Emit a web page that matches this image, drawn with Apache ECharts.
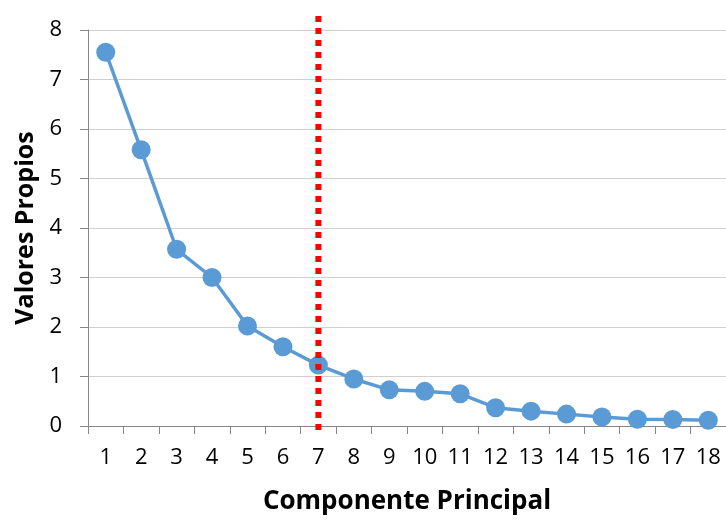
<!DOCTYPE html>
<html>
<head>
<meta charset="utf-8">
<script src="https://cdn.jsdelivr.net/npm/echarts@6/dist/echarts.min.js"></script>
<style>html,body{margin:0;padding:0;background:#fff}#c{width:726px;height:523px}</style>
</head>
<body>
<div id="c"></div>
<script>
var categories = ['1','2','3','4','5','6','7','8','9','10','11','12','13','14','15','16','17','18'];
var eigenvalues = [7.55, 5.58, 3.57, 3.0, 2.02, 1.6, 1.23, 0.95, 0.73, 0.7, 0.65, 0.37, 0.3, 0.24, 0.18, 0.135, 0.13, 0.115];
var yTicks = [0, 8, 1];
var cutoffCategory = '7';
var xTitle = 'Componente Principal';
var yTitle = 'Valores Propios';

var chart = echarts.init(document.getElementById('c'));
var font = '"Open Sans", "Liberation Sans", sans-serif';
chart.setOption({
  animation: false,
  grid: [
    {left: 88, right: 0, top: 30, bottom: 97},
    {left: 88, right: 0, top: 12, bottom: 93}
  ],
  xAxis: [{
    type: 'category', gridIndex: 0, data: categories, boundaryGap: true,
    axisLine: {lineStyle: {color: '#868686', width: 1}},
    axisTick: {show: true, length: 8, lineStyle: {color: '#868686'}},
    axisLabel: {color: '#000', fontSize: 22, fontFamily: font, margin: 21, interval: 0},
    name: xTitle, nameLocation: 'middle', nameGap: 63,
    nameTextStyle: {color: '#000', fontSize: 26, fontWeight: 'bold', fontFamily: font}
  }, {
    type: 'category', gridIndex: 1, data: categories, boundaryGap: true, show: false
  }],
  yAxis: [{
    type: 'value', gridIndex: 0, min: yTicks[0], max: yTicks[1], interval: yTicks[2],
    axisLine: {show: true, lineStyle: {color: '#868686', width: 1}},
    axisTick: {show: true, length: 8, lineStyle: {color: '#868686'}},
    splitLine: {lineStyle: {color: '#d0d0d0', width: 1}},
    axisLabel: {color: '#000', fontSize: 22, fontFamily: font, margin: 26},
    name: yTitle, nameLocation: 'middle', nameGap: 50, nameRotate: 90,
    nameTextStyle: {color: '#000', fontSize: 25, fontWeight: 'bold', fontFamily: font}
  }, {
    type: 'value', gridIndex: 1, min: 0, max: 1, show: false
  }],
  series: [{
    type: 'line', xAxisIndex: 0, yAxisIndex: 0, data: eigenvalues,
    symbol: 'circle', symbolSize: 19,
    lineStyle: {color: '#5b9bd5', width: 3.5},
    itemStyle: {color: '#5b9bd5'}, z: 3
  }, {
    type: 'line', xAxisIndex: 1, yAxisIndex: 1,
    data: [[cutoffCategory, 0], [cutoffCategory, 1]],
    symbol: 'none',
    lineStyle: {color: '#ff0000', width: 6, type: [6, 6]}, z: 4
  }]
});
</script>
</body>
</html>
